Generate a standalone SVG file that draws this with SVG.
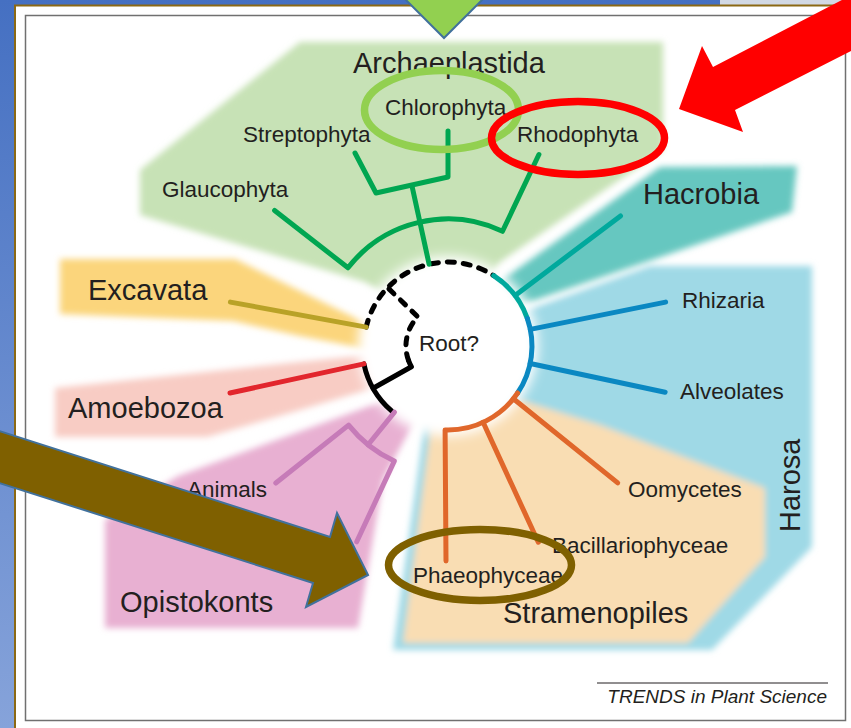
<svg xmlns="http://www.w3.org/2000/svg" width="851" height="728" viewBox="0 0 851 728">
<defs>
<linearGradient id="bgBlue" x1="0" y1="0" x2="0" y2="1">
<stop offset="0" stop-color="#4570c2"/>
<stop offset="1" stop-color="#86a3da"/>
</linearGradient>
<filter id="soft" x="-20%" y="-20%" width="140%" height="140%"><feGaussianBlur stdDeviation="3"/></filter>
<filter id="softer" x="-30%" y="-30%" width="160%" height="160%"><feGaussianBlur stdDeviation="6"/></filter>
<style>
.br{stroke-width:5;fill:none;stroke-linecap:round;stroke-linejoin:round}
.dash{stroke:#000;stroke-width:5;fill:none;stroke-linecap:round;stroke-dasharray:7 9}
.lbl{font-family:"Liberation Sans",Arial,sans-serif;fill:#231f20}
.s{font-size:22.5px}
.b{font-size:29px}
.ring{fill:none;stroke-width:7.5}
.arrow{stroke:#41719c;stroke-width:2;stroke-linejoin:miter}
</style>
</defs>

<!-- slide background / frame -->
<rect x="0" y="0" width="851" height="728" fill="url(#bgBlue)"/>
<rect x="720" y="0" width="131" height="5" fill="#d2d9e4"/>
<rect x="15" y="5" width="836" height="723" fill="#ffffff"/>
<line x1="14" y1="5.5" x2="851" y2="5.5" stroke="#8b6914" stroke-width="2"/>
<line x1="15" y1="5" x2="15" y2="728" stroke="#8b6914" stroke-width="2"/>
<rect x="25.5" y="15.5" width="820" height="705" fill="#ffffff" stroke="#707070" stroke-width="1.5"/>

<!-- colored clade regions -->
<g id="regions" filter="url(#soft)">
<polygon id="reg-archaeplastida" fill="#c7e2b6" points="300,42 663,42 663,150 500,262 448,330 365,282 140,215 140,170"/>
<polygon id="reg-hacrobia" fill="#66c7c0" points="660,167 797,166 792,212 535,300 500,310 495,285"/>
<polygon id="reg-excavata" fill="#fbd57c" points="60,259 235,259 400,340 400,355 300,336 233,321 60,314"/>
<polygon id="reg-amoebozoa" fill="#f8ccc4" points="55,388 300,362 400,352 400,380 300,410 207,437 55,437"/>
<polygon id="reg-opisthokonts" fill="#e8b0d2" points="400,395 415,420 383,480 358,628 105,628 105,520 178,476"/>
<polygon id="reg-harosa" fill="#9fd9e6" points="522,312 650,266 812,266 812,547 712,650 393,650 425,420 500,400"/>
<polygon id="reg-stramenopiles" fill="#f9ddb3" points="432,418 520,400 600,425 765,488 765,557 688,643 403,643"/>
</g>
<circle cx="448" cy="346" r="90" fill="#ffffff" filter="url(#softer)"/>

<!-- connectors (tree branches) -->
<g id="connectors">
<path class="dash" d="M366.2 327.1 A84 84 0 0 1 493.7 275.6"/>
<path class="dash" d="M408.5 360.4 A42 42 0 0 1 417.8 316.8 L387.6 287.6"/>
<path class="br" stroke="#000" d="M373.1 388.3 L411.4 366.7 A42 42 0 0 1 408.5 360.4"/>
<path class="br" stroke="#000" d="M363.9 363.9 A86 86 0 0 0 391.6 410.9"/>
<!-- Archaeplastida -->
<path class="br" stroke="#00a651" d="M274.6 210.5 L348 267.8 A127 127 0 0 1 502.5 231.3 L538.9 154.5"/>
<path class="br" stroke="#00a651" d="M429.1 264.2 L412 186"/>
<path class="br" stroke="#00a651" d="M355 153 L376 193 L448 177 L448 131"/>
<!-- Hacrobia -->
<path class="br" stroke="#00a99d" d="M493.7 275.6 A84 84 0 0 1 527.4 318.6"/>
<path class="br" stroke="#00a99d" d="M515.1 295.4 L620.5 216"/>
<!-- Rhizaria / Alveolates -->
<path class="br" stroke="#0a88c2" d="M527.4 318.6 A84 84 0 0 1 517.6 393"/>
<path class="br" stroke="#0a88c2" d="M530.3 329.4 L665.6 302.1"/>
<path class="br" stroke="#0a88c2" d="M530.2 363.5 L665.1 392.2"/>
<!-- Stramenopiles -->
<path class="br" stroke="#e0672b" d="M517.6 393 A84 84 0 0 1 445.1 430 L446 561"/>
<path class="br" stroke="#e0672b" d="M483.1 422.3 L538.3 542.2"/>
<path class="br" stroke="#e0672b" d="M513.4 398.7 L617.7 482.9"/>
<!-- Excavata / Amoebozoa -->
<path class="br" stroke="#b9a227" d="M230.4 302.1 L366.2 327.1"/>
<path class="br" stroke="#e2262d" d="M230 393 L363.9 363.9"/>
<!-- Opisthokonts -->
<path class="br" stroke="#c67bb8" d="M394.5 412.1 L368.1 444.7"/>
<path class="br" stroke="#c67bb8" d="M275.8 483 L348.6 425.1 A127 127 0 0 0 394.3 461.1 L356.7 541.8"/>
</g>

<!-- labels -->
<g id="n-archaeplastida"><text class="lbl b" x="353" y="73">Archaeplastida</text></g>
<g id="n-chlorophyta"><text class="lbl s" x="385" y="115">Chlorophyta</text></g>
<g id="n-streptophyta"><text class="lbl s" x="243" y="142">Streptophyta</text></g>
<g id="n-rhodophyta"><text class="lbl s" x="517" y="142">Rhodophyta</text></g>
<g id="n-glaucophyta"><text class="lbl s" x="162" y="197">Glaucophyta</text></g>
<g id="n-hacrobia"><text class="lbl b" x="643" y="204">Hacrobia</text></g>
<g id="n-excavata"><text class="lbl b" x="88" y="300">Excavata</text></g>
<g id="n-rhizaria"><text class="lbl s" x="682" y="308">Rhizaria</text></g>
<g id="n-root"><text class="lbl s" x="419" y="351">Root?</text></g>
<g id="n-alveolates"><text class="lbl s" x="680" y="399">Alveolates</text></g>
<g id="n-amoebozoa"><text class="lbl b" x="68" y="418">Amoebozoa</text></g>
<g id="n-oomycetes"><text class="lbl s" x="628" y="497">Oomycetes</text></g>
<g id="n-animals"><text class="lbl s" x="187" y="497">Animals</text></g>
<g id="n-bacillariophyceae"><text class="lbl s" x="552" y="553">Bacillariophyceae</text></g>
<g id="n-phaeophyceae"><text class="lbl s" x="413" y="583">Phaeophyceae</text></g>
<g id="n-opistokonts"><text class="lbl b" x="120" y="612">Opistokonts</text></g>
<g id="n-stramenopiles"><text class="lbl b" x="503" y="623">Stramenopiles</text></g>
<g id="n-harosa"><text class="lbl b" transform="translate(800 532) rotate(-90)" x="0" y="0">Harosa</text></g>
<g id="credit">
<line x1="597" y1="683" x2="828" y2="683" stroke="#231f20" stroke-width="1"/>
<text class="lbl" x="827" y="703" text-anchor="end" font-size="19" font-style="italic">TRENDS in Plant Science</text>
</g>

<!-- highlight annotations -->
<g id="highlights">
<ellipse class="ring" cx="441.5" cy="110" rx="77" ry="39.5" stroke="#92d050"/>
<ellipse class="ring" cx="578" cy="138" rx="86.5" ry="36.5" stroke="#ff0000"/>
<ellipse class="ring" cx="480" cy="565" rx="91.5" ry="35.5" stroke="#7f6000" stroke-width="8"/>
</g>
<g id="arrows">
<polygon class="arrow" fill="#92d050" points="401,-5 444,38 487,-5"/>
<polygon fill="#ff0000" points="679,109 702,46 713,67 890,-25 912,20 735,110 743,132"/>
<polygon class="arrow" fill="#7f6000" points="368,575 337,513 330,537 -10,428 -10,480 313,583 306,607"/>
</g>
</svg>
